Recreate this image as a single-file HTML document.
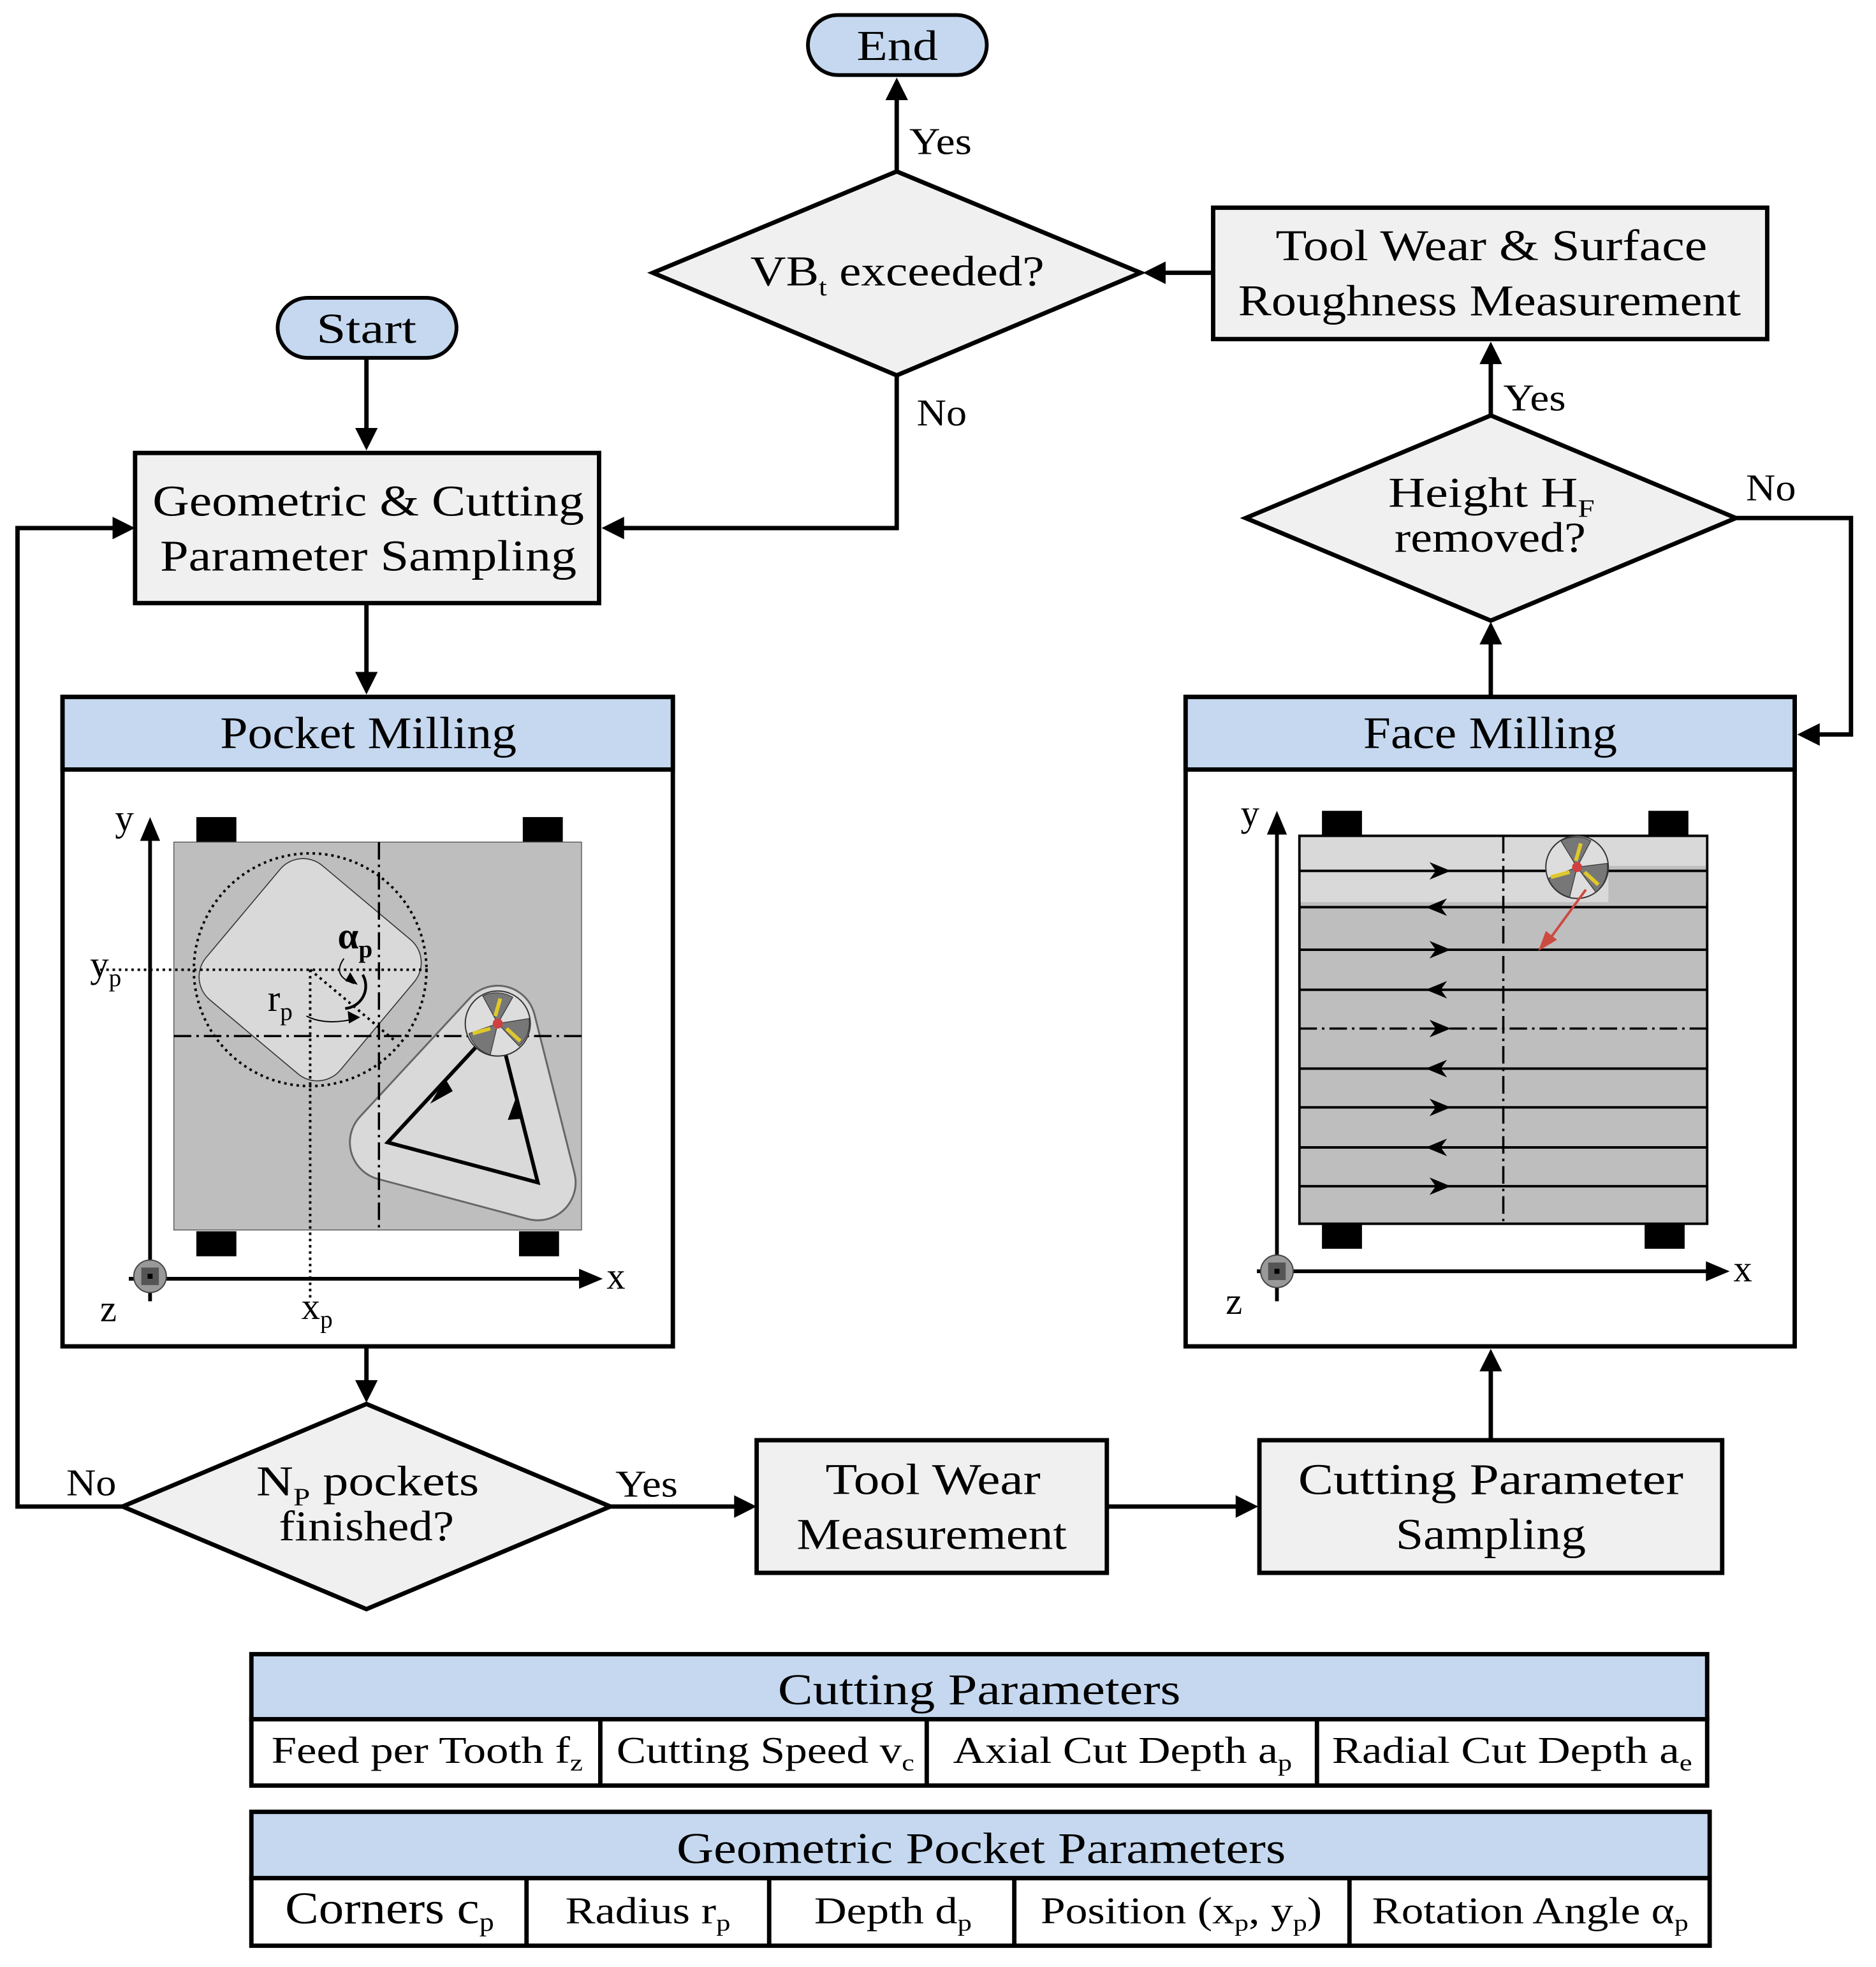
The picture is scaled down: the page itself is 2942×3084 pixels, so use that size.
<!DOCTYPE html>
<html><head><meta charset="utf-8"><style>
html,body{margin:0;padding:0;background:#fff}
svg{display:block}
text{font-family:"Liberation Serif",serif;fill:#000}
</style></head><body>
<svg width="2942" height="3084" viewBox="0 0 1500 1572" preserveAspectRatio="none" xmlns="http://www.w3.org/2000/svg">
<g stroke="#000" stroke-width="3.5" fill="none">
<line x1="717" y1="137" x2="717" y2="75"/>
<line x1="970" y1="218" x2="928" y2="218"/>
<line x1="293" y1="287" x2="293" y2="347"/>
<polyline points="717,300 717,422 495,422"/>
<polyline points="98,1204 14,1204 14,422 94,422"/>
<line x1="293" y1="482" x2="293" y2="542"/>
<line x1="293" y1="1076" x2="293" y2="1108"/>
<line x1="488" y1="1204" x2="591" y2="1204"/>
<line x1="885" y1="1204" x2="992" y2="1204"/>
<line x1="1192" y1="1151" x2="1192" y2="1092"/>
<line x1="1192" y1="557" x2="1192" y2="511"/>
<line x1="1192" y1="332" x2="1192" y2="287"/>
<polyline points="1388,414 1480,414 1480,587 1451,587"/>
</g>
<g fill="#000">
<polygon points="717,62 708,80 726,80"/>
<polygon points="914,218 932,209 932,227"/>
<polygon points="293,360 284,342 302,342"/>
<polygon points="481,422 499,413 499,431"/>
<polygon points="108,422 90,413 90,431"/>
<polygon points="293,555 284,537 302,537"/>
<polygon points="293,1121 284,1103 302,1103"/>
<polygon points="605,1204 587,1195 587,1213"/>
<polygon points="1006,1204 988,1195 988,1213"/>
<polygon points="1192,1078 1183,1096 1201,1096"/>
<polygon points="1192,497 1183,515 1201,515"/>
<polygon points="1192,273 1183,291 1201,291"/>
<polygon points="1437,587 1455,578 1455,596"/>
</g>
<g font-size="30" lengthAdjust="spacingAndGlyphs">
<text x="727" y="123" textLength="50" lengthAdjust="spacingAndGlyphs">Yes</text>
<text x="733" y="340" textLength="40" lengthAdjust="spacingAndGlyphs">No</text>
<text x="53" y="1195" textLength="40" lengthAdjust="spacingAndGlyphs">No</text>
<text x="492" y="1196" textLength="50" lengthAdjust="spacingAndGlyphs">Yes</text>
<text x="1202" y="328" textLength="50" lengthAdjust="spacingAndGlyphs">Yes</text>
<text x="1396" y="400" textLength="40" lengthAdjust="spacingAndGlyphs">No</text>
</g>
<rect x="646" y="12" width="143" height="48" rx="24" fill="#c5d8ef" stroke="#000" stroke-width="3"/>
<text x="685" y="48" font-size="34" textLength="65" lengthAdjust="spacingAndGlyphs">End</text>
<rect x="222" y="238" width="143" height="48" rx="24" fill="#c5d8ef" stroke="#000" stroke-width="3"/>
<text x="253" y="274" font-size="34" textLength="80" lengthAdjust="spacingAndGlyphs">Start</text>
<g fill="#f0f0f0" stroke="#000" stroke-width="3.5">
<polygon points="717,137 912,218 717,300 522,218"/>
<polygon points="1192,332 1388,414 1192,496 996,414"/>
<polygon points="293,1122 488,1204 293,1286 98,1204"/>
</g>
<g font-size="34">
<text x="600" y="228" textLength="235" lengthAdjust="spacingAndGlyphs">VB<tspan font-size="20" dy="8">t</tspan><tspan dy="-8"> exceeded?</tspan></text>
<text x="1110" y="405" textLength="165" lengthAdjust="spacingAndGlyphs">Height H<tspan font-size="20" dy="8">F</tspan></text>
<text x="1115" y="441" textLength="153" lengthAdjust="spacingAndGlyphs">removed?</text>
<text x="205" y="1195" textLength="178" lengthAdjust="spacingAndGlyphs">N<tspan font-size="20" dy="8">P</tspan><tspan dy="-8"> pockets</tspan></text>
<text x="223" y="1231" textLength="140" lengthAdjust="spacingAndGlyphs">finished?</text>
</g>
<g fill="#f0f0f0" stroke="#000" stroke-width="3.5">
<rect x="970" y="166" width="443" height="105"/>
<rect x="108" y="362" width="371" height="120"/>
<rect x="605" y="1151" width="280" height="106"/>
<rect x="1007" y="1151" width="370" height="106"/>
</g>
<g font-size="35">
<text x="1020" y="208" textLength="345" lengthAdjust="spacingAndGlyphs">Tool Wear &amp; Surface</text>
<text x="990" y="252" textLength="402" lengthAdjust="spacingAndGlyphs">Roughness Measurement</text>
<text x="122" y="412" textLength="345" lengthAdjust="spacingAndGlyphs">Geometric &amp; Cutting</text>
<text x="128" y="456" textLength="333" lengthAdjust="spacingAndGlyphs">Parameter Sampling</text>
<text x="660" y="1194" textLength="172" lengthAdjust="spacingAndGlyphs">Tool Wear</text>
<text x="637" y="1238" textLength="216" lengthAdjust="spacingAndGlyphs">Measurement</text>
<text x="1038" y="1194" textLength="308" lengthAdjust="spacingAndGlyphs">Cutting Parameter</text>
<text x="1116" y="1238" textLength="152" lengthAdjust="spacingAndGlyphs">Sampling</text>
</g>
<rect x="50" y="557" width="488" height="519" fill="#fff" stroke="#000" stroke-width="3.5"/>
<rect x="50" y="557" width="488" height="58" fill="#c5d8ef" stroke="#000" stroke-width="3.5"/>
<text x="176" y="598" font-size="36" textLength="237" lengthAdjust="spacingAndGlyphs">Pocket Milling</text>
<g fill="#000">
<rect x="157" y="653" width="32" height="20"/><rect x="418" y="653" width="32" height="20"/>
<rect x="157" y="984" width="32" height="20"/><rect x="415" y="984" width="32" height="20"/>
</g>
<rect x="139" y="673" width="326" height="310" fill="#bebebe" stroke="#555" stroke-width="0.7"/>
<g transform="rotate(40 248 775)">
<rect x="178" y="705" width="140" height="140" rx="24" fill="#d9d9d9" stroke="#333" stroke-width="0.8"/>
</g>
<circle cx="248" cy="775" r="93" fill="none" stroke="#000" stroke-width="2" stroke-dasharray="2,3"/>
<polygon points="310,913 430,945 398,818" fill="#d9d9d9" stroke="#666" stroke-width="62" stroke-linejoin="round"/>
<polygon points="310,913 430,945 398,818" fill="#d9d9d9" stroke="#d9d9d9" stroke-width="59" stroke-linejoin="round"/>
<g stroke="#000" stroke-width="1.8" stroke-dasharray="14,4,2,4" fill="none">
<line x1="303" y1="673" x2="303" y2="983"/>
<line x1="139" y1="828" x2="465" y2="828"/>
</g>
<g stroke="#000" stroke-width="2" stroke-dasharray="2,3" fill="none">
<line x1="80" y1="775" x2="342" y2="775"/>
<line x1="248" y1="775" x2="248" y2="1040"/>
<line x1="248" y1="775" x2="316" y2="832"/>
</g>
<path d="M290,779 A18,18 0 0 1 276,806" stroke="#000" stroke-width="2.2" fill="none"/>
<path d="M275,766 q-10,14 8,20" stroke="#000" stroke-width="1" fill="none"/>
<polygon points="286,787 276,784 280,777" fill="#000"/>
<path d="M245,812 q15,8 40,2" stroke="#000" stroke-width="1" fill="none"/>
<polygon points="288,813 278,808 279,818" fill="#000"/>
<g stroke="#000" stroke-width="3" fill="none">
<polyline points="398,818 310,913 430,945 398,818"/>
</g>
<polygon points="344,882 356,862 362,872" fill="#000"/>
<polygon points="413,876 406,895 418,894" fill="#000"/>
<circle cx="398" cy="818" r="26" fill="#ddd" stroke="#333" stroke-width="1"/>
<path d="M398,818 L386,796 A25,25 0 0 1 410,797 Z M398,818 L423,814 A25,25 0 0 1 415,836 Z M398,818 L392,843 A25,25 0 0 1 375,826 Z" fill="#777" stroke="#333" stroke-width="0.6"/>
<g stroke="#e0c82a" stroke-width="3"><line x1="400" y1="798" x2="396" y2="812"/><line x1="405" y1="822" x2="416" y2="832"/><line x1="392" y1="822" x2="378" y2="826"/></g>
<circle cx="398" cy="818" r="4" fill="#d04040"/>
<g stroke="#000" stroke-width="3" fill="none">
<line x1="120" y1="1040" x2="120" y2="665"/>
<line x1="103" y1="1022" x2="468" y2="1022"/>
</g>
<polygon points="120,653 112,672 128,672" fill="#000"/>
<polygon points="482,1022 463,1014 463,1030" fill="#000"/>
<circle cx="120" cy="1020" r="13" fill="#999" stroke="#444" stroke-width="1"/>
<rect x="113" y="1013" width="14" height="14" fill="#555"/><rect x="118" y="1018" width="4" height="4" fill="#000"/>
<g font-size="30">
<text x="92" y="664">y</text><text x="485" y="1030">x</text><text x="80" y="1056">z</text>
<text x="72" y="781">y<tspan font-size="20" dy="7">p</tspan></text>
<text x="241" y="1054">x<tspan font-size="20" dy="7">p</tspan></text>
<text x="214" y="808">r<tspan font-size="20" dy="7">p</tspan></text>
<text x="270" y="758" font-weight="bold">α<tspan font-size="20" dy="7">p</tspan></text>
</g>
<rect x="948" y="557" width="487" height="519" fill="#fff" stroke="#000" stroke-width="3.5"/>
<rect x="948" y="557" width="487" height="58" fill="#c5d8ef" stroke="#000" stroke-width="3.5"/>
<text x="1090" y="598" font-size="36" textLength="203" lengthAdjust="spacingAndGlyphs">Face Milling</text>
<g fill="#000">
<rect x="1057" y="648" width="32" height="20"/><rect x="1318" y="648" width="32" height="20"/>
<rect x="1057" y="978" width="32" height="20"/><rect x="1315" y="978" width="32" height="20"/>
</g>
<rect x="1039" y="668" width="326" height="310" fill="#bebebe" stroke="#000" stroke-width="2"/>
<rect x="1040" y="669" width="324" height="52" fill="#d9d9d9"/>
<rect x="1286" y="692" width="78" height="29" fill="#bebebe"/>
<g stroke="#000" stroke-width="2">
<line x1="1039" y1="696" x2="1365" y2="696"/>
<line x1="1039" y1="725" x2="1365" y2="725"/>
<line x1="1039" y1="759" x2="1365" y2="759"/>
<line x1="1039" y1="791" x2="1365" y2="791"/>
<line x1="1039" y1="854" x2="1365" y2="854"/>
<line x1="1039" y1="885" x2="1365" y2="885"/>
<line x1="1039" y1="917" x2="1365" y2="917"/>
<line x1="1039" y1="948" x2="1365" y2="948"/>
</g>
<g stroke="#000" stroke-width="1.8" stroke-dasharray="14,4,2,4" fill="none">
<line x1="1202" y1="668" x2="1202" y2="978"/>
<line x1="1039" y1="822" x2="1365" y2="822"/>
</g>
<g fill="#000">
<polygon points="1160,696 1143,689 1148,696 1143,703"/>
<polygon points="1140,725 1157,718 1152,725 1157,732"/>
<polygon points="1160,759 1143,752 1148,759 1143,766"/>
<polygon points="1140,791 1157,784 1152,791 1157,798"/>
<polygon points="1160,822 1143,815 1148,822 1143,829"/>
<polygon points="1140,854 1157,847 1152,854 1157,861"/>
<polygon points="1160,885 1143,878 1148,885 1143,892"/>
<polygon points="1140,917 1157,910 1152,917 1157,924"/>
<polygon points="1160,948 1143,941 1148,948 1143,955"/>
</g>
<circle cx="1261" cy="693" r="25" fill="#ddd" stroke="#333" stroke-width="1"/>
<path d="M1261,693 L1248,672 A25,25 0 0 1 1272,672 Z M1261,693 L1285,690 A25,25 0 0 1 1276,713 Z M1261,693 L1255,717 A25,25 0 0 1 1238,702 Z" fill="#777" stroke="#333" stroke-width="0.6"/>
<g stroke="#e0c82a" stroke-width="3"><line x1="1264" y1="674" x2="1260" y2="688"/><line x1="1267" y1="697" x2="1278" y2="707"/><line x1="1255" y1="697" x2="1240" y2="701"/></g>
<circle cx="1261" cy="693" r="4" fill="#d04040"/>
<line x1="1268" y1="711" x2="1238" y2="752" stroke="#cc4a40" stroke-width="2"/>
<polygon points="1230,760 1236,744 1245,751" fill="#cc4a40"/>
<g stroke="#000" stroke-width="3" fill="none">
<line x1="1021" y1="1040" x2="1021" y2="660"/>
<line x1="1005" y1="1016" x2="1370" y2="1016"/>
</g>
<polygon points="1021,648 1013,667 1029,667" fill="#000"/>
<polygon points="1383,1016 1364,1008 1364,1024" fill="#000"/>
<circle cx="1021" cy="1016" r="13" fill="#999" stroke="#444" stroke-width="1"/>
<rect x="1014" y="1009" width="14" height="14" fill="#555"/><rect x="1019" y="1014" width="4" height="4" fill="#000"/>
<g font-size="30">
<text x="992" y="660">y</text><text x="1386" y="1024">x</text><text x="980" y="1050">z</text>
</g>
<g stroke="#000" stroke-width="3.5">
<rect x="201" y="1322" width="1164" height="52" fill="#c5d8ef"/>
<rect x="201" y="1374" width="1164" height="53" fill="#fff"/>
<line x1="480" y1="1374" x2="480" y2="1427"/>
<line x1="741" y1="1374" x2="741" y2="1427"/>
<line x1="1053" y1="1374" x2="1053" y2="1427"/>
<rect x="201" y="1448" width="1166" height="53" fill="#c5d8ef"/>
<rect x="201" y="1501" width="1166" height="54" fill="#fff"/>
<line x1="421" y1="1501" x2="421" y2="1555"/>
<line x1="615" y1="1501" x2="615" y2="1555"/>
<line x1="811" y1="1501" x2="811" y2="1555"/>
<line x1="1079" y1="1501" x2="1079" y2="1555"/>
</g>
<g font-size="35">
<text x="622" y="1362" textLength="322" lengthAdjust="spacingAndGlyphs">Cutting Parameters</text>
<text x="541" y="1489" textLength="487" lengthAdjust="spacingAndGlyphs">Geometric Pocket Parameters</text>
</g>
<g font-size="30">
<text x="217" y="1409" textLength="249" lengthAdjust="spacingAndGlyphs">Feed per Tooth f<tspan font-size="19" dy="6">z</tspan></text>
<text x="493" y="1409" textLength="238" lengthAdjust="spacingAndGlyphs">Cutting Speed v<tspan font-size="19" dy="6">c</tspan></text>
<text x="762" y="1409" textLength="271" lengthAdjust="spacingAndGlyphs">Axial Cut Depth a<tspan font-size="19" dy="6">p</tspan></text>
<text x="1065" y="1409" textLength="288" lengthAdjust="spacingAndGlyphs">Radial Cut Depth a<tspan font-size="19" dy="6">e</tspan></text>
<text x="228" y="1537" font-size="36" textLength="167" lengthAdjust="spacingAndGlyphs">Corners c<tspan font-size="21" dy="6">p</tspan></text>
<text x="452" y="1537" textLength="132" lengthAdjust="spacingAndGlyphs">Radius r<tspan font-size="19" dy="6">p</tspan></text>
<text x="651" y="1537" textLength="126" lengthAdjust="spacingAndGlyphs">Depth d<tspan font-size="19" dy="6">p</tspan></text>
<text x="832" y="1537" textLength="225" lengthAdjust="spacingAndGlyphs">Position (x<tspan font-size="19" dy="6">p</tspan><tspan dy="-6">, y</tspan><tspan font-size="19" dy="6">p</tspan><tspan dy="-6">)</tspan></text>
<text x="1097" y="1537" textLength="253" lengthAdjust="spacingAndGlyphs">Rotation Angle α<tspan font-size="19" dy="6">p</tspan></text>
</g>
</svg>
</body></html>
